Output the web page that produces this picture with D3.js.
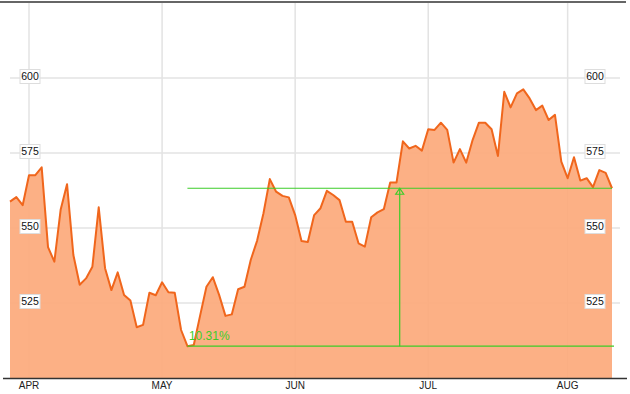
<!DOCTYPE html>
<html>
<head>
<meta charset="utf-8">
<script src="https://cdn.jsdelivr.net/npm/d3@7"></script>
<style>
  body { margin: 0; background: #fff; }
  text { font-family: "Liberation Sans", Arial, sans-serif; }
</style>
</head>
<body>
<div id="chart"></div>
<script>
// Data ------------------------------------------------------------------------------
const holidays = ["2014-04-18", "2014-05-26", "2014-07-04"];
const months = ["APR", "MAY", "JUN", "JUL", "AUG"];
const yTicks = [525, 550, 575, 600];
const prices = [
  558.8, 560.3, 557.6, 567.6, 567.6, 570.2, 543.6, 538.8, 556.2, 564.6,
  541.0, 531.1, 533.2, 537.1, 556.9, 536.6, 529.3, 535.2, 527.7, 525.8,
  516.9, 517.7, 528.4, 527.6, 531.9, 528.6, 528.4, 516.0, 510.6, 511.0,
  520.8, 530.4, 533.6, 527.7, 520.7, 521.2, 529.6, 530.4, 539.4, 545.8,
  554.9, 566.3, 562.1, 560.7, 560.2, 554.3, 545.7, 545.3, 554.3, 556.6,
  562.4, 561.0, 559.3, 552.1, 552.1, 544.9, 543.8, 553.6, 555.2, 556.3,
  565.2, 565.2, 578.9, 576.5, 577.4, 575.8, 582.9, 582.7, 585.1, 582.7,
  571.8, 576.3, 571.8, 579.3, 585.1, 585.1, 582.9, 574.0, 595.4, 590.2,
  594.9, 596.2, 593.2, 589.3, 590.8, 586.0, 587.7, 572.1, 566.6, 573.6,
  565.8, 566.6, 563.6, 569.3, 568.4, 563.25
];

// trading days (weekdays minus market holidays)
const fmt = d3.timeFormat("%Y-%m-%d");
const days = d3.timeDay.range(new Date(2014, 2, 27), new Date(2014, 7, 13))
  .filter(d => d.getDay() % 6 !== 0 && !holidays.includes(fmt(d)))
  .map(fmt);
const data = days.map((d, i) => ({ day: d, value: prices[i] }));
const monthStarts = days.filter((d, i) => i > 0 && d.slice(5, 7) !== days[i - 1].slice(5, 7));

// Scales ------------------------------------------------------------------------------
const svg = d3.select("#chart").append("svg").attr("width", 630).attr("height", 394);

const x = d3.scalePoint().domain(days).range([10, 612]);
const y = d3.scaleLinear().domain([500, 625]).range([378, 3]);

// ----- Grid -------
svg.selectAll(".vgrid")
  .data(monthStarts)
  .enter().append("line")
  .attr("x1", d => x(d)).attr("x2", d => x(d))
  .attr("y1", 3).attr("y2", 378)
  .attr("stroke", "#e3e3e3")
  .attr("stroke-width", 1.5);

svg.selectAll(".hgrid")
  .data(yTicks)
  .enter().append("line")
  .attr("x1", 10).attr("x2", 620)
  .attr("y1", d => y(d)).attr("y2", d => y(d))
  .attr("stroke", "#e3e3e3")
  .attr("stroke-width", 1.5);

// ----- Area + line -------
const area = d3.area().x(d => x(d.day)).y0(y(500)).y1(d => y(d.value));
const line = d3.line().x(d => x(d.day)).y(d => y(d.value));

svg.append("path")
  .datum(data)
  .attr("d", area)
  .attr("fill", "#fcaa7c")
  .attr("fill-opacity", 0.93);

svg.append("path")
  .datum(data)
  .attr("d", line)
  .attr("fill", "none")
  .attr("stroke", "#f0661c")
  .attr("stroke-width", 2)
  .attr("stroke-linejoin", "round");

// ----- Frame -------
svg.append("line")
  .attr("x1", 0).attr("x2", 626).attr("y1", 2).attr("y2", 2)
  .attr("stroke", "#333").attr("stroke-width", 1.5);

svg.append("line")
  .attr("x1", 3).attr("x2", 627).attr("y1", 378.5).attr("y2", 378.5)
  .attr("stroke", "#333").attr("stroke-width", 1.5);

// ----- Month labels -------
svg.selectAll(".month")
  .data(monthStarts)
  .enter().append("text")
  .attr("x", d => x(d))
  .attr("y", 389)
  .attr("text-anchor", "middle")
  .attr("fill", "#222")
  .style("font-size", "10px")
  .text((d, i) => months[i]);

// ----- Y labels (boxed, both sides) -------
[30, 595].forEach(cx => {
  const g = svg.selectAll(null)
    .data(yTicks)
    .enter().append("g")
    .attr("transform", d => `translate(${cx},${y(d) - 1.5})`);
  g.append("rect")
    .attr("x", -10).attr("y", -7)
    .attr("width", 20).attr("height", 14)
    .attr("fill", "#fff")
    .attr("stroke", "#ddd");
  g.append("text")
    .attr("text-anchor", "middle")
    .attr("dy", "0.36em")
    .attr("fill", "#111")
    .style("font-size", "10.5px")
    .text(d => d);
});

// ----- Change annotation -------
const minIdx = d3.minIndex(data, d => d.value);
const lo = data[minIdx], hi = data[data.length - 1];
const green = "#3ccc28";
const midX = (x(lo.day) + x(hi.day)) / 2;

svg.append("line")
  .attr("x1", x(lo.day)).attr("x2", x(hi.day) + 2)
  .attr("y1", y(lo.value)).attr("y2", y(lo.value))
  .attr("stroke", green).attr("stroke-width", 1.2);

svg.append("line")
  .attr("x1", x(lo.day)).attr("x2", x(hi.day))
  .attr("y1", y(hi.value)).attr("y2", y(hi.value))
  .attr("stroke", green).attr("stroke-width", 1.2);

svg.append("line")
  .attr("x1", midX).attr("x2", midX)
  .attr("y1", y(lo.value)).attr("y2", y(hi.value))
  .attr("stroke", green).attr("stroke-width", 1.2);

svg.append("path")
  .attr("d", `M${midX},${y(hi.value)} L${midX - 4},${y(hi.value) + 6} L${midX + 4},${y(hi.value) + 6} Z`)
  .attr("fill", "none")
  .attr("stroke", green).attr("stroke-width", 1.2);

svg.append("text")
  .attr("x", x(lo.day) + 1.5)
  .attr("y", y(lo.value) - 6)
  .attr("fill", green)
  .style("font-size", "12px")
  .text(((hi.value / lo.value - 1) * 100).toFixed(2) + "%");
</script>
</body>
</html>
